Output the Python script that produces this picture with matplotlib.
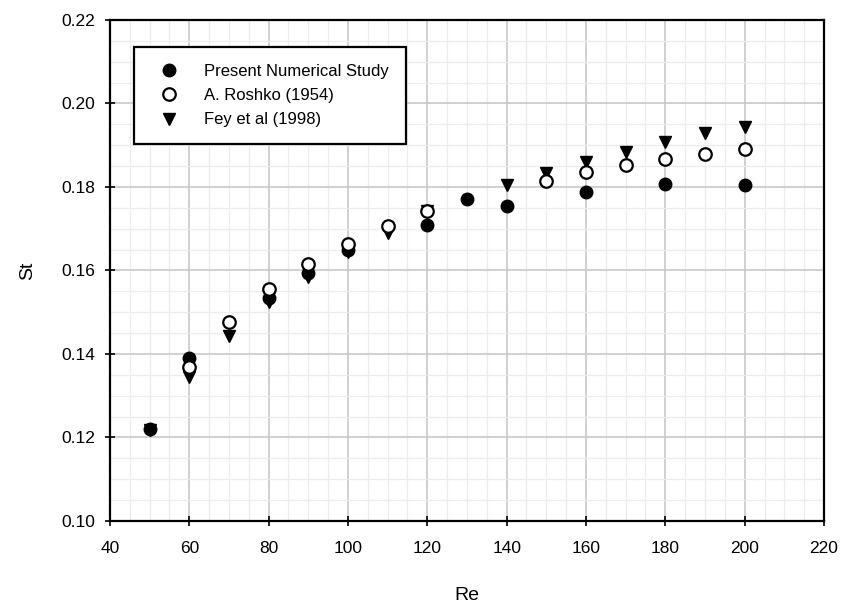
import matplotlib
matplotlib.use("Agg")
import matplotlib.pyplot as plt
from matplotlib.ticker import MultipleLocator, FormatStrFormatter

plt.rcParams['font.family'] = ['Liberation Sans', 'DejaVu Sans']

# Strouhal number vs Reynolds number
re_present = [50, 60, 80, 90, 100, 120, 130, 140, 160, 180, 200]
st_present = [0.122, 0.139, 0.1535, 0.1595, 0.1648, 0.1708, 0.1770, 0.1755, 0.1787, 0.1806, 0.1804]

re_roshko = [60, 70, 80, 90, 100, 110, 120, 150, 160, 170, 180, 190, 200]
st_roshko = [0.1368, 0.1476, 0.1555, 0.1615, 0.1663, 0.1707, 0.1743, 0.1815, 0.1836, 0.1852, 0.1866, 0.1879, 0.1892]

re_fey = [50, 60, 70, 80, 90, 100, 110, 120, 140, 150, 160, 170, 180, 190, 200]
st_fey = [0.1218, 0.1345, 0.1443, 0.1525, 0.1585, 0.1645, 0.1690, 0.1742, 0.1805, 0.1834, 0.1860, 0.1884, 0.1908, 0.1928, 0.1943]

labels = ["Present Numerical Study", "A. Roshko (1954)", "Fey et al (1998)"]

fig = plt.figure(figsize=(8.46, 6.03), dpi=100)
ax = fig.add_axes([0.130, 0.136, 0.844, 0.831])

ax.plot(re_present, st_present, 'o', color='black', ms=9, label=labels[0], zorder=3)
ax.plot(re_roshko, st_roshko, 'o', mfc='white', mec='black', mew=1.6, ms=9, label=labels[1], zorder=4)
ax.plot(re_fey, st_fey, 'v', color='black', ms=9, label=labels[2], zorder=2)

ax.set_xlim(40, 220)
ax.set_ylim(0.10, 0.22)
ax.xaxis.set_major_locator(MultipleLocator(20))
ax.yaxis.set_major_locator(MultipleLocator(0.02))
ax.xaxis.set_minor_locator(MultipleLocator(5))
ax.yaxis.set_minor_locator(MultipleLocator(0.005))
ax.yaxis.set_major_formatter(FormatStrFormatter('%.2f'))

ax.grid(which='major', color='#c8c8c8', lw=1.2)
ax.grid(which='minor', color='#ececec', lw=0.9)
ax.set_axisbelow(True)

ax.tick_params(which='major', direction='inout', length=7, width=1.2, labelsize=12.5)
ax.tick_params(axis='x', which='major', pad=11)
ax.tick_params(axis='y', which='major', pad=7)
ax.tick_params(which='minor', length=0)
for s in ax.spines.values():
    s.set_linewidth(1.6)

ax.set_xlabel("Re", fontsize=14, labelpad=22)
ax.set_ylabel("St", fontsize=14, labelpad=18)

leg = ax.legend(loc='upper left', bbox_to_anchor=(0.034, 0.945), fontsize=12,
                frameon=True, fancybox=False, edgecolor='black', framealpha=1,
                handletextpad=1.0, borderpad=1.0, labelspacing=0.55, borderaxespad=0,
                handlelength=2.2)
leg.get_frame().set_linewidth(1.6)

fig.savefig("out.png", dpi=100)
